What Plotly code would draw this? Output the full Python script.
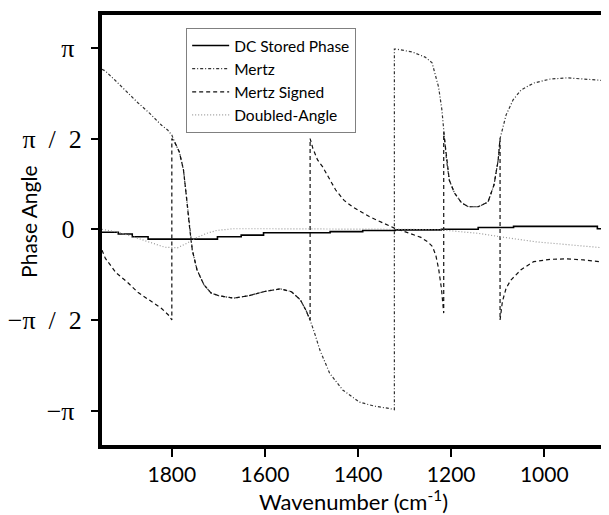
import math
import plotly.graph_objects as go

# ---------------- data ----------------
dc_wn = [1950, 1915, 1885, 1851, 1702, 1651, 1603, 1460, 1390, 1320, 1221, 1142, 1066, 886, 861]
dc_val = [-0.05, -0.08, -0.13, -0.17, -0.13, -0.10, -0.06, -0.04, -0.02, -0.01, 0.00, 0.03, 0.05, 0.01, 0.01]

mertz_wn = [1950, 1943, 1922, 1901, 1873, 1848, 1822, 1809, 1800, 1794, 1784, 1775, 1769, 1765,
            1761.5, 1756, 1746, 1731, 1716, 1699, 1667, 1635, 1603, 1567, 1543, 1524, 1512, 1503,
            1492, 1482, 1461, 1433, 1397, 1365, 1333, 1322, 1322, 1320, 1284, 1256, 1241, 1235,
            1227, 1220, 1216, 1210, 1204, 1193, 1178, 1163, 1142, 1121, 1108, 1099, 1095, 1082,
            1067, 1050, 1023, 987, 951, 916, 880, 861]
mertz_val = [2.77, 2.74, 2.58, 2.41, 2.19, 2.01, 1.80, 1.72, 1.63, 1.51, 1.34, 1.03, 0.59, 0.25,
             0.0, -0.36, -0.70, -0.96, -1.10, -1.15, -1.19, -1.15, -1.08, -1.03, -1.08, -1.22, -1.40, -1.57,
             -1.83, -2.09, -2.49, -2.78, -2.99, -3.06, -3.10, -3.12, 3.12, 3.12, 3.07, 2.98, 2.88, 2.70,
             2.46, 2.07, 1.68, 1.20, 0.85, 0.63, 0.46, 0.39, 0.39, 0.47, 0.77, 1.20, 1.57, 1.98,
             2.24, 2.41, 2.53, 2.60, 2.62, 2.60, 2.58, 2.53]

signed_wn = [1950, 1943, 1920, 1895, 1873, 1848, 1822, 1805, 1800, 1800, 1794, 1784, 1775, 1769,
             1765, 1761.5, 1756, 1746, 1731, 1716, 1699, 1667, 1635, 1603, 1567, 1543, 1524, 1512,
             1503, 1503, 1497, 1487, 1476, 1462, 1448, 1430, 1412, 1376, 1345, 1322, 1300, 1284,
             1265, 1250, 1240, 1233, 1227, 1221, 1216, 1216, 1210, 1204, 1193, 1178, 1163, 1142,
             1121, 1108, 1099, 1095, 1095, 1090, 1082, 1072, 1050, 1023, 987, 951, 916, 880, 861]
signed_val = [-0.36, -0.50, -0.75, -0.92, -1.09, -1.22, -1.37, -1.50, -1.57, 1.57, 1.51, 1.34, 1.03, 0.59,
              0.25, 0.0, -0.36, -0.70, -0.96, -1.10, -1.15, -1.19, -1.15, -1.08, -1.03, -1.08, -1.22, -1.40,
              -1.57, 1.57, 1.40, 1.20, 1.08, 0.88, 0.68, 0.50, 0.39, 0.22, 0.10, 0.02, -0.04, -0.08,
              -0.14, -0.22, -0.30, -0.45, -0.68, -1.02, -1.45, 1.68, 1.20, 0.85, 0.63, 0.46, 0.39, 0.39,
              0.47, 0.77, 1.20, 1.57, -1.57, -1.25, -1.02, -0.88, -0.70, -0.56, -0.52, -0.51, -0.53, -0.56, -0.60]

dbl_wn = [1950, 1915, 1879, 1843, 1815, 1788, 1767, 1746, 1725, 1704, 1668, 1600, 1500, 1400,
          1300, 1221, 1180, 1142, 1085, 1015, 943, 900, 861]
dbl_val = [0.0, -0.05, -0.14, -0.24, -0.31, -0.32, -0.24, -0.14, -0.07, -0.02, 0.01, 0.01, 0.01, 0.0,
           0.0, -0.01, -0.04, -0.07, -0.14, -0.22, -0.27, -0.30, -0.33]

series_names = ["DC Stored Phase", "Mertz", "Mertz Signed", "Doubled-Angle"]

x_ticks = [1800, 1600, 1400, 1200, 1000]
y_ticks = [-math.pi, -math.pi / 2, 0, math.pi / 2, math.pi]
TAIL = "\u2009\u200a\u200b"  # small trailing gap for the single-glyph labels
y_ticktext = ["\u2212\u03c0" + TAIL, "\u2212\u03c0\u2002/\u20022", "0" + TAIL,
              "\u03c0\u2002/\u20022", "\u03c0" + TAIL]

assert len(mertz_wn) == len(mertz_val)
assert len(signed_wn) == len(signed_val)
assert len(dbl_wn) == len(dbl_val)
assert len(dc_wn) == len(dc_val)

SANS = "Lato, 'Open Sans', sans-serif"
SERIF = "'Liberation Serif', 'DejaVu Serif', serif"

fig = go.Figure()
fig.add_trace(go.Scatter(x=dc_wn, y=dc_val, mode="lines", name=series_names[0],
                         line=dict(color="#000000", width=1.6, shape="hv")))
fig.add_trace(go.Scatter(x=mertz_wn, y=mertz_val, mode="lines", name=series_names[1],
                         line=dict(color="#333333", width=1.2, dash="3px,2px,1px,2px")))
fig.add_trace(go.Scatter(x=signed_wn, y=signed_val, mode="lines", name=series_names[2],
                         line=dict(color="#111111", width=1.2, dash="4px,3px")))
fig.add_trace(go.Scatter(x=dbl_wn, y=dbl_val, mode="lines", name=series_names[3],
                         line=dict(color="#9a9a9a", width=1.2, dash="1px,2px")))

fig.update_layout(
    width=601, height=507,
    margin=dict(l=89, r=0, t=7, b=70),
    paper_bgcolor="white", plot_bgcolor="white",
    showlegend=True,
    legend=dict(x=0.166, y=0.97, xanchor="left", yanchor="top",
                bgcolor="white", bordercolor="#808080", borderwidth=1,
                itemwidth=37,
                font=dict(family=SANS, size=15.5, color="#000000"),
                tracegroupgap=0),
    xaxis=dict(range=[1950, 861], tickvals=x_ticks, ticktext=[str(v) for v in x_ticks],
               showgrid=False, zeroline=False, showline=True, linewidth=4, linecolor="black",
               mirror=True, ticks="outside", ticklen=8, tickwidth=1.5, tickcolor="black",
               tickfont=dict(family=SANS, size=21, color="black")),
    yaxis=dict(range=[-3.732, 3.708], tickvals=y_ticks, ticktext=y_ticktext,
               showgrid=False, zeroline=False, showline=True, linewidth=4, linecolor="black",
               mirror=False, ticks="outside", ticklen=7, tickwidth=1.5, tickcolor="black",
               ticklabelstandoff=4,
               tickfont=dict(family=SERIF, size=26, color="black")),
    annotations=[
        dict(text="Wavenumber (cm<sup>-1</sup>)", xref="paper", yref="paper",
             x=0.496, y=-0.128, xanchor="center", yanchor="middle", showarrow=False,
             font=dict(family=SANS, size=22, color="black")),
        dict(text="Phase Angle", xref="paper", yref="paper", textangle=-90,
             x=-0.145, y=0.52, xanchor="center", yanchor="middle", showarrow=False,
             font=dict(family=SANS, size=21, color="black")),
    ],
)

fig.write_html("out.html", config={"displayModeBar": False})
